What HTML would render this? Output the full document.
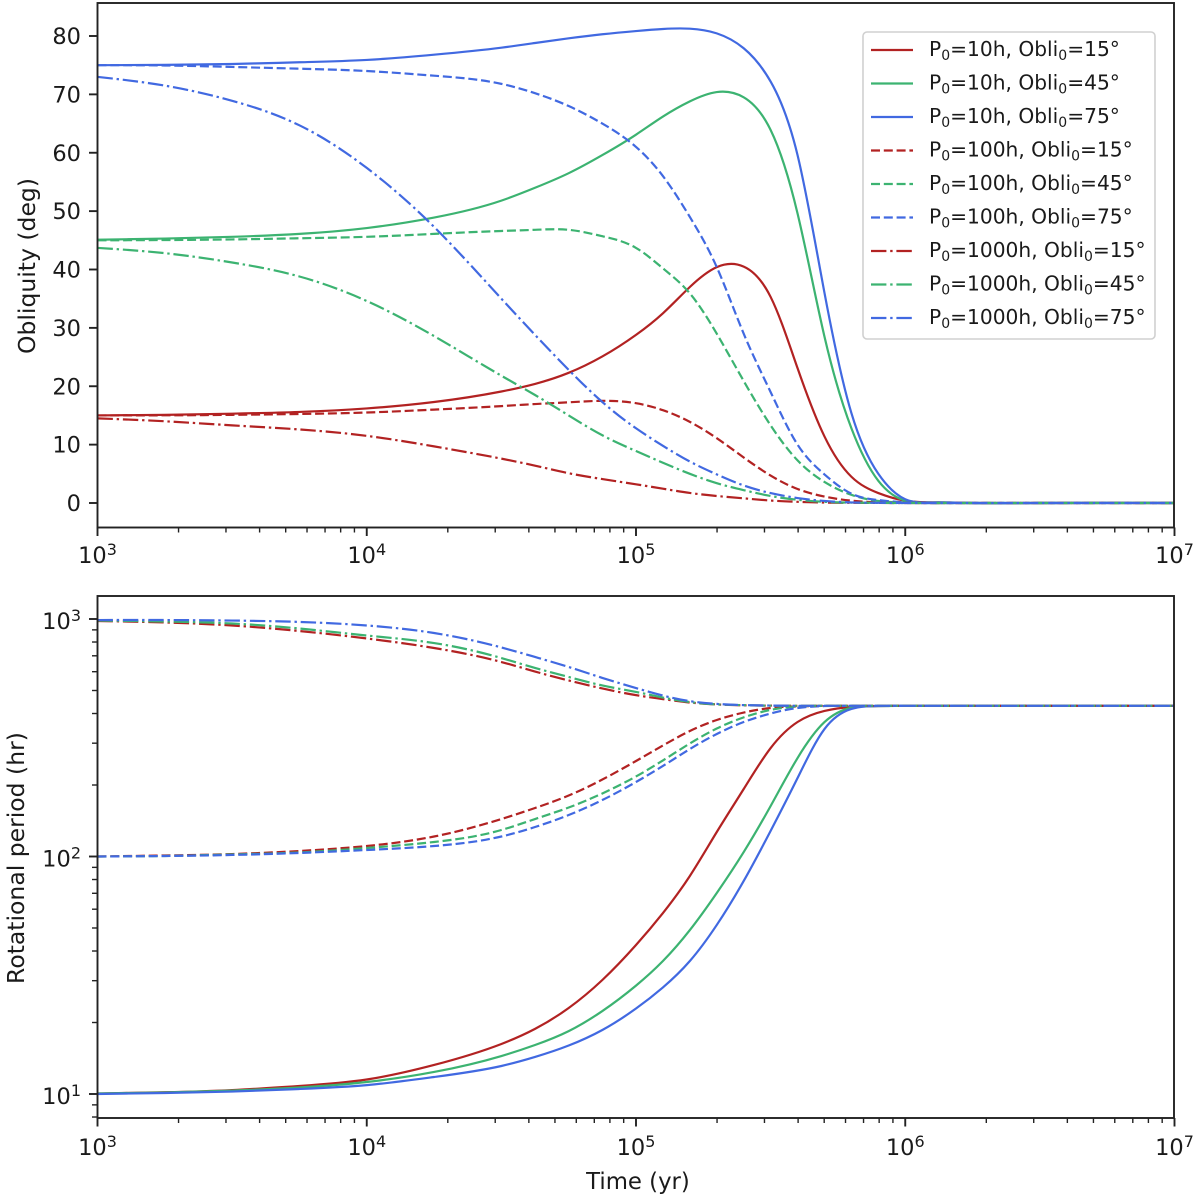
<!DOCTYPE html>
<html lang="en">
<head>
<meta charset="utf-8">
<title>Obliquity and rotational period evolution</title>
<style>
  html, body { margin: 0; padding: 0; background: #fff; }
  svg { display: block; font-family: "DejaVu Sans", "Liberation Sans", sans-serif; fill: #1a1a1a; filter: blur(0.35px); }
</style>
</head>
<body>
<svg id="chart" xmlns="http://www.w3.org/2000/svg" width="1200" height="1201" viewBox="0 0 1200 1201">
  <defs>
    <clipPath id="clip-top"><rect x="97.5" y="3" width="1076.5" height="524.5"/></clipPath>
    <clipPath id="clip-bottom"><rect x="97.5" y="596" width="1076.5" height="522"/></clipPath>
  </defs>
  <rect x="0" y="0" width="1200" height="1201" fill="#fff"/>
  <g id="top-lines" clip-path="url(#clip-top)"></g>
  <g id="bottom-lines" clip-path="url(#clip-bottom)"></g>
  <rect x="97.5" y="3" width="1076.5" height="524.5" fill="none" stroke="#222" stroke-width="1.9"/>
  <rect x="97.5" y="596" width="1076.5" height="522" fill="none" stroke="#222" stroke-width="1.9"/>
  <g id="ticks"></g>
  <text transform="translate(35,266) rotate(-90)" text-anchor="middle" font-size="23.5">Obliquity (deg)</text>
  <text transform="translate(24,858) rotate(-90)" text-anchor="middle" font-size="23.5">Rotational period (hr)</text>
  <text x="638" y="1189" text-anchor="middle" font-size="22.8">Time (yr)</text>
  <g id="legend">
    <rect x="863" y="32" width="292" height="307" rx="4" ry="4" fill="#fff" fill-opacity="0.85" stroke="#d0d0d0" stroke-width="1.6"/>
  </g>
</svg>
<script>
// ---------- shared time grid (years) ----------
const timeYears = [1000, 1778, 3162, 5623, 10000, 17783, 31623, 42170, 56234, 74989, 100000, 125893, 158489, 199526, 251189, 316228, 398107, 501187, 630957, 794328, 1000000, 1258925, 1778279, 3162278, 10000000];

// ---------- obliquity series (degrees) ----------
const obliP10O15 = [15.0, 15.1, 15.3, 15.6, 16.2, 17.3, 19.1, 20.4, 22.3, 25.1, 28.8, 32.5, 37.0, 40.4, 40.5, 35.3, 23.1, 11.4, 4.5, 1.7, 0.4, 0.1, 0, 0, 0];
const obliP10O45 = [45.1, 45.3, 45.6, 46.1, 47.1, 48.9, 51.8, 54.0, 56.5, 59.6, 63.1, 66.2, 68.8, 70.4, 69.5, 63.9, 49.6, 28.5, 12.8, 3.8, 0.4, 0.1, 0, 0, 0];
const obliP10O75 = [75.0, 75.05, 75.2, 75.5, 75.9, 76.8, 78.0, 78.8, 79.6, 80.3, 80.85, 81.2, 81.25, 80.45, 77.9, 72.2, 59.6, 36.0, 15.4, 5.0, 0.65, 0.1, 0, 0, 0];
const obliP100O15 = [15.0, 15.02, 15.1, 15.25, 15.5, 16.0, 16.6, 16.95, 17.25, 17.5, 17.1, 15.9, 13.9, 11.1, 7.8, 4.7, 2.4, 1.1, 0.4, 0.12, 0.02, 0, 0, 0, 0];
const obliP100O45 = [45.0, 45.05, 45.15, 45.35, 45.6, 46.1, 46.6, 46.8, 46.8, 45.7, 43.7, 40.2, 35.9, 29.0, 20.9, 13.3, 7.3, 3.6, 1.4, 0.35, 0.08, 0, 0, 0, 0];
const obliP100O75 = [75.0, 74.95, 74.7, 74.4, 74.0, 73.2, 71.8, 70.2, 68.0, 65.0, 61.0, 56.0, 49.0, 40.4, 29.0, 19.0, 10.0, 4.9, 1.6, 0.5, 0.1, 0, 0, 0, 0];
const obliP1000O15 = [14.5, 14.0, 13.3, 12.6, 11.5, 9.7, 7.6, 6.4, 5.1, 4.1, 3.2, 2.45, 1.72, 1.2, 0.8, 0.42, 0.2, 0.08, 0.03, 0.01, 0, 0, 0, 0, 0];
const obliP1000O45 = [43.7, 42.8, 41.2, 38.8, 34.6, 28.6, 21.8, 18.5, 15.0, 11.6, 8.9, 6.9, 5.0, 3.4, 2.2, 1.2, 0.55, 0.2, 0.07, 0.02, 0, 0, 0, 0, 0];
const obliP1000O75 = [73.0, 71.5, 68.9, 64.7, 57.4, 47.3, 35.0, 28.8, 22.8, 17.3, 12.8, 9.8, 7.1, 4.9, 3.0, 1.7, 0.85, 0.35, 0.1, 0.03, 0, 0, 0, 0, 0];

// ---------- rotational period series (hours) ----------
const periodP10O15 = [10.05, 10.17, 10.39, 10.81, 11.51, 13.25, 16.24, 18.8, 23.02, 30.2, 42.4, 57.8, 82.8, 126.8, 192.4, 286.2, 368.4, 410, 426, 430, 431, 431, 431, 431, 431];
const periodP10O45 = [10.05, 10.15, 10.34, 10.65, 11.23, 12.38, 14.45, 16.08, 18.4, 22.35, 28.6, 36.3, 49.0, 70.2, 104.4, 163.2, 259.8, 368, 423, 430, 431, 431, 431, 431, 431];
const periodP10O75 = [10.0, 10.1, 10.24, 10.5, 10.9, 11.79, 13.12, 14.32, 16.0, 18.6, 22.9, 28.1, 36.3, 51.5, 78.9, 128.2, 214, 344, 418, 430, 431, 431, 431, 431, 431];
const periodP100O15 = [100, 101, 102.4, 105.5, 110.7, 121.4, 143.8, 160, 180.6, 210.9, 252.4, 293.3, 337.6, 375.6, 403.8, 422, 428.7, 430.7, 431, 431, 431, 431, 431, 431, 431];
const periodP100O45 = [100, 100.5, 102, 104, 108.6, 115.1, 129.3, 143.8, 160.8, 184.3, 217.3, 253.8, 299.2, 345.8, 385.3, 414.2, 428, 430.7, 431, 431, 431, 431, 431, 431, 431];
const periodP100O75 = [100, 100.5, 101.5, 103.5, 106.5, 110.7, 121.4, 133.1, 149.5, 172.9, 205.9, 240.6, 283.4, 328, 368.3, 400, 422, 430, 431, 431, 431, 431, 431, 431, 431];
const periodP1000O15 = [981, 967, 939, 890, 828, 755, 659, 601, 551, 510, 478, 460, 445, 437, 433, 432, 431, 431, 431, 431, 431, 431, 431, 431, 431];
const periodP1000O45 = [985, 976, 957, 912, 852, 792, 685, 622, 570, 525, 493, 467, 447, 437, 433.8, 431.5, 431, 431, 431, 431, 431, 431, 431, 431, 431];
const periodP1000O75 = [990, 990, 985, 972, 939, 873, 759, 692, 628, 565, 512, 476, 451, 439, 434, 432, 431, 431, 431, 431, 431, 431, 431, 431, 431];

// ---------- tick labels ----------
const timeDecadeExponents = [3, 4, 5, 6, 7];
const obliquityTicks = [0, 10, 20, 30, 40, 50, 60, 70, 80];
const periodDecadeExponents = [1, 2, 3];
const minorMultipliers = [2, 3, 4, 5, 6, 7, 8, 9];

// ---------- legend / series labels ----------
const initialPeriods = [10, 100, 1000];
const initialObliquities = [15, 45, 75];
const obliCurves = [obliP10O15, obliP10O45, obliP10O75, obliP100O15, obliP100O45, obliP100O75, obliP1000O15, obliP1000O45, obliP1000O75];
const periodCurves = [periodP10O15, periodP10O45, periodP10O75, periodP100O15, periodP100O45, periodP100O75, periodP1000O15, periodP1000O45, periodP1000O75];
const obliColors = ['#b22222', '#3cb371', '#4169e1'];
const periodDashes = ['none', '9 3.8', '15.4 3.8 2.4 3.8'];

// ---------- axis functions ----------
const SVGNS = 'http://www.w3.org/2000/svg';
function xTime(t) { return 97.5 + (Math.log10(t) - 3) * 269.25; }
function yObli(v) { return 503 - 5.8375 * v; }
function yPeriod(p) { return 1094 - 237.5 * (Math.log10(p) - 1); }

// C2 cubic spline through the read points, emitted as Bezier segments
function smoothPath(xs, ys) {
  const n = xs.length;
  const a = new Array(n).fill(0);
  const b = new Array(n).fill(0);
  const c = new Array(n).fill(0);
  const r = new Array(n).fill(0);
  b[0] = 2; c[0] = 1; r[0] = 3 * (ys[1] - ys[0]) / (xs[1] - xs[0]);
  a[n - 1] = 1; b[n - 1] = 2; r[n - 1] = 3 * (ys[n - 1] - ys[n - 2]) / (xs[n - 1] - xs[n - 2]);
  for (let i = 1; i < n - 1; i++) {
    const hl = xs[i] - xs[i - 1];
    const hr = xs[i + 1] - xs[i];
    a[i] = hr;
    b[i] = 2 * (hl + hr);
    c[i] = hl;
    r[i] = 3 * (hr * (ys[i] - ys[i - 1]) / hl + hl * (ys[i + 1] - ys[i]) / hr);
  }
  for (let i = 1; i < n; i++) {
    const w = a[i] / b[i - 1];
    b[i] -= w * c[i - 1];
    r[i] -= w * r[i - 1];
  }
  const m = new Array(n).fill(0);
  m[n - 1] = r[n - 1] / b[n - 1];
  for (let i = n - 2; i >= 0; i--) m[i] = (r[i] - c[i] * m[i + 1]) / b[i];
  let d = 'M' + xs[0].toFixed(2) + ' ' + ys[0].toFixed(2);
  for (let i = 0; i < n - 1; i++) {
    const h = (xs[i + 1] - xs[i]) / 3;
    d += 'C' + (xs[i] + h).toFixed(2) + ' ' + (ys[i] + m[i] * h).toFixed(2) + ' ' +
      (xs[i + 1] - h).toFixed(2) + ' ' + (ys[i + 1] - m[i + 1] * h).toFixed(2) + ' ' +
      xs[i + 1].toFixed(2) + ' ' + ys[i + 1].toFixed(2);
  }
  return d;
}

function drawCurves(parentId, curves, yFn, prefix) {
  const parent = document.getElementById(parentId);
  const xs = timeYears.map(xTime);
  curves.forEach(function (vals, k) {
    const pIdx = Math.floor(k / 3);
    const oIdx = k % 3;
    const path = document.createElementNS(SVGNS, 'path');
    
    
    path.setAttribute('d', smoothPath(xs, vals.map(yFn)));
    path.setAttribute('fill', 'none');
    path.setAttribute('stroke', obliColors[oIdx]);
    path.setAttribute('stroke-width', '2.2');
    if (periodDashes[pIdx] !== 'none') path.setAttribute('stroke-dasharray', periodDashes[pIdx]);
    parent.appendChild(path);
  });
}
drawCurves('top-lines', obliCurves, yObli, 'obliquity-line');
drawCurves('bottom-lines', periodCurves, yPeriod, 'period-line');

const ticks = document.getElementById('ticks');
function tickLine(x1, y1, x2, y2, width) {
  const l = document.createElementNS(SVGNS, 'line');
  
  
  l.setAttribute('x1', x1);
  l.setAttribute('y1', y1);
  l.setAttribute('x2', x2);
  l.setAttribute('y2', y2);
  l.setAttribute('stroke', '#222');
  l.setAttribute('stroke-width', width);
  ticks.appendChild(l);
}
function powerLabel(exp, x, y, anchor, name) {
  const t = document.createElementNS(SVGNS, 'text');
  
  
  t.setAttribute('x', x);
  t.setAttribute('y', y);
  t.setAttribute('text-anchor', anchor);
  t.setAttribute('font-size', '22.5');
  t.appendChild(document.createTextNode('10'));
  const s = document.createElementNS(SVGNS, 'tspan');
  s.setAttribute('font-size', '16');
  s.setAttribute('dy', '-8');
  s.textContent = String(exp);
  t.appendChild(s);
  ticks.appendChild(t);
}

[527.5, 1118].forEach(function (base) {
  timeDecadeExponents.forEach(function (e) {
    const x = xTime(Math.pow(10, e));
    tickLine(x, base, x, base + 8.5, 1.9);
    powerLabel(e, x, base === 527.5 ? 563 : 1155, 'middle', 'x-tick-label-1e' + e);
    if (e < 7) {
      minorMultipliers.forEach(function (m) {
        const xm = xTime(m * Math.pow(10, e));
        tickLine(xm, base, xm, base + 5, 1.4);
      });
    }
  });
});

obliquityTicks.forEach(function (v) {
  const y = yObli(v);
  tickLine(97.5, y, 89, y, 1.9);
  const t = document.createElementNS(SVGNS, 'text');
  
  
  t.setAttribute('x', 81);
  t.setAttribute('y', y + 8);
  t.setAttribute('text-anchor', 'end');
  t.setAttribute('font-size', '22.5');
  t.textContent = String(v);
  ticks.appendChild(t);
});

periodDecadeExponents.forEach(function (e) {
  const y = yPeriod(Math.pow(10, e));
  tickLine(97.5, y, 89, y, 1.9);
  powerLabel(e, 81, y + 10, 'end', 'period-tick-label-1e' + e);
});
[0, 1, 2].forEach(function (e) {
  minorMultipliers.forEach(function (m) {
    const p = m * Math.pow(10, e);
    const y = yPeriod(p);
    if (y <= 1118) tickLine(97.5, y, 92, y, 1.4);
  });
});

const legend = document.getElementById('legend');
initialPeriods.forEach(function (period, pIdx) {
  initialObliquities.forEach(function (obli, oIdx) {
    const y = 50 + 33.5 * (pIdx * 3 + oIdx);
    const g = document.createElementNS(SVGNS, 'g');
    
    
    const line = document.createElementNS(SVGNS, 'line');
    
    
    line.setAttribute('x1', 871);
    line.setAttribute('x2', 913);
    line.setAttribute('y1', y);
    line.setAttribute('y2', y);
    line.setAttribute('stroke', obliColors[oIdx]);
    line.setAttribute('stroke-width', '2.2');
    if (periodDashes[pIdx] !== 'none') line.setAttribute('stroke-dasharray', periodDashes[pIdx]);
    g.appendChild(line);
    const t = document.createElementNS(SVGNS, 'text');
    
    
    t.setAttribute('x', 929);
    t.setAttribute('y', y + 6);
    t.setAttribute('font-size', '20.2');
    t.appendChild(document.createTextNode('P'));
    const sub1 = document.createElementNS(SVGNS, 'tspan');
    sub1.setAttribute('font-size', '14');
    sub1.setAttribute('dy', '4');
    sub1.textContent = '0';
    t.appendChild(sub1);
    const mid = document.createElementNS(SVGNS, 'tspan');
    mid.setAttribute('dy', '-4');
    mid.textContent = '=' + period + 'h, Obli';
    t.appendChild(mid);
    const sub2 = document.createElementNS(SVGNS, 'tspan');
    sub2.setAttribute('font-size', '14');
    sub2.setAttribute('dy', '4');
    sub2.textContent = '0';
    t.appendChild(sub2);
    const end = document.createElementNS(SVGNS, 'tspan');
    end.setAttribute('dy', '-4');
    end.textContent = '=' + obli + '°';
    t.appendChild(end);
    g.appendChild(t);
    legend.appendChild(g);
  });
});
</script>
</body>
</html>
